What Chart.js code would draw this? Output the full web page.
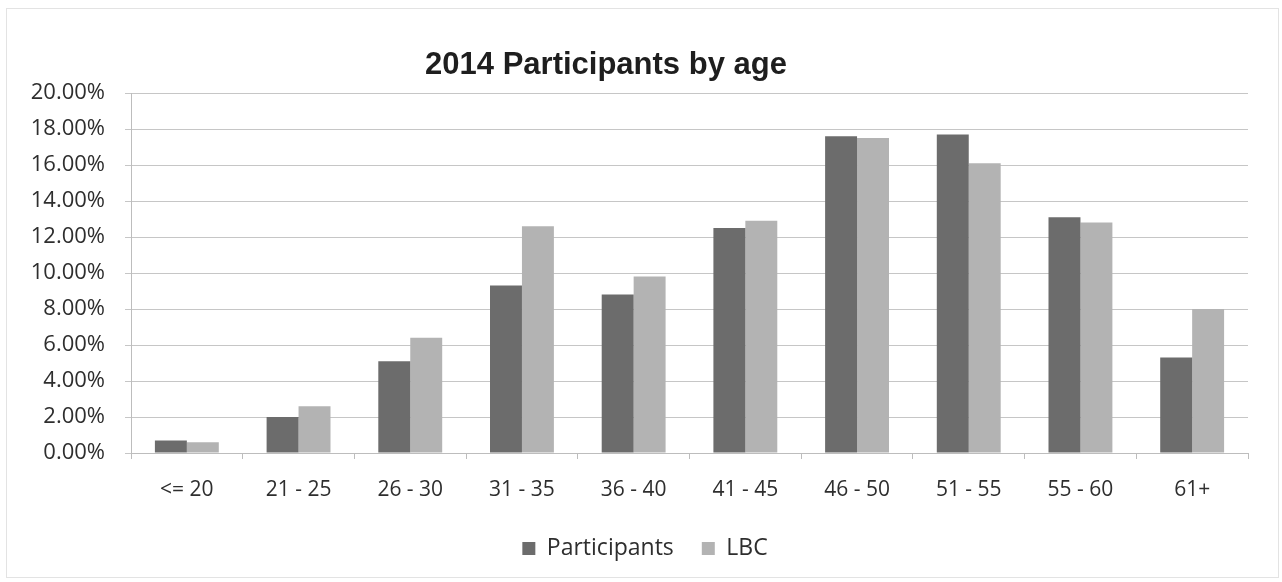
<!DOCTYPE html>
<html>
<head>
<meta charset="utf-8">
<title>2014 Participants by age</title>
<script src="https://cdn.jsdelivr.net/npm/chart.js@4/dist/chart.umd.min.js"></script>
<style>
  html, body { margin: 0; padding: 0; background: #ffffff; }
  #wrap { position: relative; width: 1282px; height: 582px; }
</style>
</head>
<body>
<div id="wrap"><canvas id="chart" width="1282" height="582"></canvas></div>
<script>
// Age groups along the x axis
const ageGroups = ['<= 20', '21 - 25', '26 - 30', '31 - 35', '36 - 40', '41 - 45', '46 - 50', '51 - 55', '55 - 60', '61+'];
// Share of each age group, in percent
const participants = [0.7, 2.0, 5.1, 9.3, 8.8, 12.5, 17.6, 17.7, 13.1, 5.3];
const lbc = [0.6, 2.6, 6.4, 12.6, 9.8, 12.9, 17.5, 16.1, 12.8, 8.0];
// Value axis range, in percent
const yMin = 0;
const yMax = 20;
const yStep = 2;

const chartTitle = '2014 Participants by age';
const xFont = { family: '"Open Sans", sans-serif', size: 21 };
const yFont = { family: '"Open Sans", sans-serif', size: 22 };
const legendFont = { family: '"Open Sans", sans-serif', size: 23 };
const textColor = '#2e2e2e';

// Chart title and thin outer frame, drawn directly on the canvas;
// the legend row is nudged so it sits centred under the whole chart.
const frameAndTitle = {
  id: 'frameAndTitle',
  afterLayout(chart) {
    if (chart.legend) {
      chart.legend.left += 21;
      chart.legend.right += 21;
    }
  },
  beforeDraw(chart) {
    const ctx = chart.ctx;
    ctx.save();
    ctx.fillStyle = '#ffffff';
    ctx.fillRect(0, 0, chart.width, chart.height);
    ctx.strokeStyle = '#e3e3e3';
    ctx.lineWidth = 1;
    ctx.strokeRect(6.5, 8.5, 1272, 569);
    ctx.restore();
  },
  afterDraw(chart) {
    const ctx = chart.ctx;
    ctx.save();
    ctx.fillStyle = '#1e1e1e';
    ctx.font = 'bold 31px "Liberation Sans", Arial, sans-serif';
    ctx.textAlign = 'center';
    ctx.textBaseline = 'middle';
    ctx.fillText(chartTitle, 606, 65);
    ctx.restore();
  }
};

new Chart(document.getElementById('chart'), {
  type: 'bar',
  data: {
    labels: ageGroups,
    datasets: [
      { label: 'Participants', data: participants, backgroundColor: '#6c6c6c' },
      { label: 'LBC', data: lbc, backgroundColor: '#b3b3b3' }
    ]
  },
  options: {
    responsive: false,
    animation: false,
    devicePixelRatio: 1,
    categoryPercentage: 0.572,
    barPercentage: 1.0,
    layout: { padding: { top: 93, right: 34, bottom: 12, left: 0 } },
    plugins: {
      title: { display: false },
      tooltip: { enabled: false },
      legend: {
        position: 'bottom',
        labels: {
          font: legendFont,
          color: textColor,
          boxWidth: 13,
          boxHeight: 13,
          padding: 28
        }
      }
    },
    scales: {
      x: {
        grid: { display: true, drawOnChartArea: false, drawTicks: true, tickLength: 6, color: '#bdbdbd' },
        border: { display: true, color: '#bdbdbd' },
        ticks: { font: xFont, color: textColor, padding: 18, maxRotation: 0, autoSkip: false },
        afterFit(scale) { scale.height = 56; }
      },
      y: {
        min: yMin,
        max: yMax,
        grid: { color: '#c6c6c6', tickLength: 6, drawTicks: true },
        border: { display: true, color: '#bdbdbd' },
        ticks: {
          stepSize: yStep,
          font: yFont,
          color: textColor,
          padding: 20,
          callback: (v) => Number(v).toFixed(2) + '%'
        },
        afterFit(scale) { scale.width = 131; }
      }
    }
  },
  plugins: [frameAndTitle]
});
</script>
</body>
</html>
